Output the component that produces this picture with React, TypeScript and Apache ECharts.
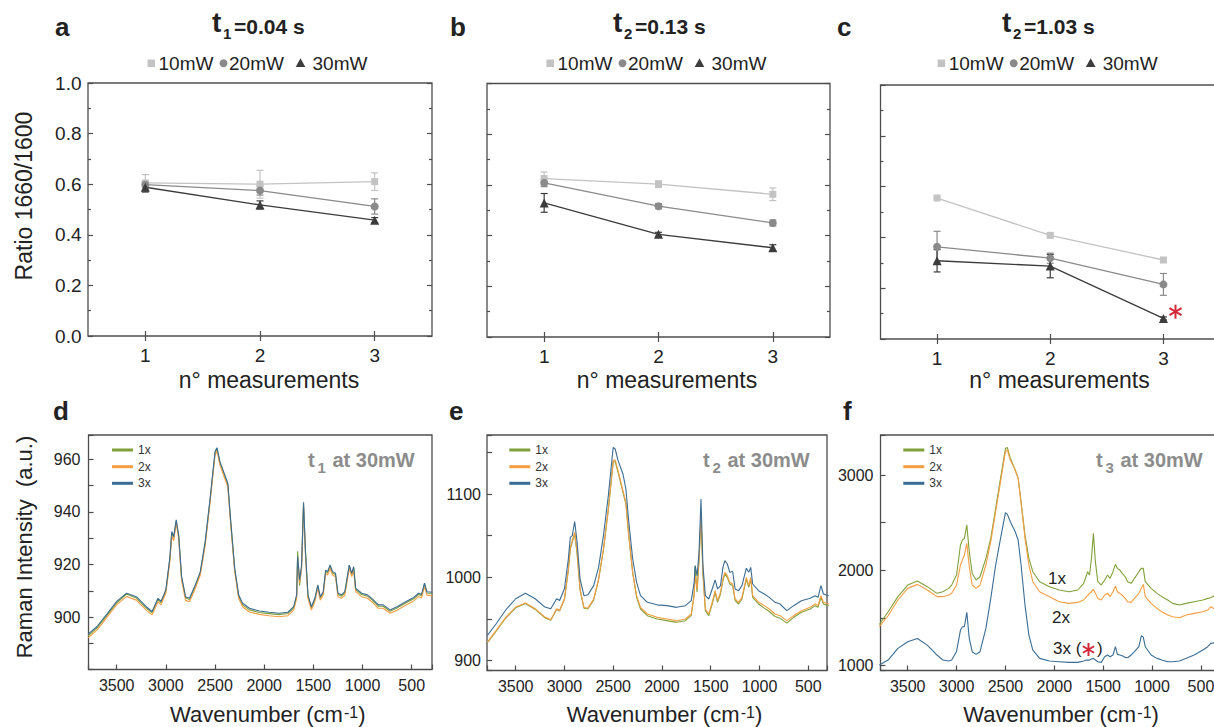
import React, { useEffect, useRef } from 'react';
import * as echarts from 'echarts';

const FONT = '"Liberation Sans", Arial, Helvetica, sans-serif';
const INK = '#222222';
const AXIS = '#4d4d4d';
const RED = '#d2283a';
const NOTE_GRAY = '#8c8c8c';

// ---------- top panels (ratio 1660/1600) ----------
const CATEGORIES = ['1', '2', '3'];
const POWER_NAMES = ['10mW', '20mW', '30mW'];
const POWER_COLORS = ['#c3c3c3', '#8a8a8a', '#3c3c3c'];
const POWER_SYMBOLS = ['rect', 'circle', 'triangle'];
const POWER_SIZES = [7, 8, 9];

const A_10MW = [0.605, 0.6, 0.61];
const A_10MW_ERR = [0.033, 0.055, 0.035];
const A_20MW = [0.598, 0.575, 0.512];
const A_20MW_ERR = [0.012, 0.018, 0.03];
const A_30MW = [0.588, 0.518, 0.458];
const A_30MW_ERR = [0.019, 0.016, 0.01];

const B_10MW = [0.625, 0.603, 0.563];
const B_10MW_ERR = [0.026, 0.013, 0.025];
const B_20MW = [0.608, 0.516, 0.45];
const B_20MW_ERR = [0.015, 0.01, 0.012];
const B_30MW = [0.529, 0.405, 0.352];
const B_30MW_ERR = [0.037, 0.008, 0.012];

const C_10MW = [0.555, 0.408, 0.311];
const C_10MW_ERR = [0.006, 0.005, 0.005];
const C_20MW = [0.363, 0.318, 0.215];
const C_20MW_ERR = [0.061, 0.02, 0.043];
const C_30MW = [0.308, 0.287, 0.081];
const C_30MW_ERR = [0.044, 0.046, 0.006];

// ---------- bottom panels (Raman spectra) ----------
const SPEC_NAMES = ['1x', '2x', '3x'];
const SPEC_COLORS = ['#80a13a', '#f59e42', '#3b6d94'];

const WAVENUMBERS = [
  3790, 3700, 3600, 3500, 3400, 3300, 3200, 3140, 3080, 3050,
  3000, 2960, 2940, 2920, 2895, 2870, 2840, 2800, 2760, 2700,
  2650, 2600, 2550, 2500, 2480, 2450, 2400, 2370, 2340, 2300,
  2260, 2220, 2150, 2050, 1950, 1850, 1760, 1700, 1670, 1660,
  1640, 1620, 1600, 1580, 1555, 1520, 1485, 1455, 1430, 1400,
  1375, 1355, 1330, 1305, 1275, 1250, 1215, 1180, 1135, 1110,
  1090, 1070, 1010, 950, 900, 840, 790, 720, 650, 570,
  480, 430, 400, 370, 345, 290,
];

const D_1X = [
  893.0, 896.0, 900.6, 905.5, 908.8, 907.3, 903.5, 901.7, 906.8, 905.5,
  910.0, 922.0, 932.0, 930.2, 936.6, 930.8, 915.0, 907.3, 906.7, 911.8,
  916.8, 928.2, 944.6, 962.3, 963.8, 958.5, 953.4, 950.3, 935.8, 918.1,
  908.0, 904.7, 902.8, 901.8, 901.4, 901.0, 901.4, 903.6, 908.3, 925.0,
  912.0, 919.0, 942.8, 924.3, 908.0, 903.5, 906.7, 911.8, 907.3, 909.2,
  917.4, 916.8, 919.3, 916.8, 916.2, 908.6, 908.0, 909.2, 919.6, 916.2,
  918.7, 910.5, 908.6, 908.0, 906.5, 904.2, 904.2, 902.3, 903.5, 905.2,
  907.0, 908.6, 908.2, 912.4, 909.2, 909.0,
];
const D_2X = [
  892.2, 895.2, 899.9, 904.8, 907.9, 906.5, 902.7, 900.9, 905.9, 904.7,
  909.1, 921.0, 930.8, 929.0, 935.8, 929.8, 914.0, 906.4, 905.9, 911.0,
  916.0, 927.3, 943.7, 961.5, 963.0, 957.7, 952.5, 949.4, 934.9, 917.3,
  907.2, 904.0, 902.0, 901.1, 900.6, 900.2, 900.6, 902.7, 907.2, 922.0,
  913.0, 918.5, 942.0, 923.5, 907.2, 902.7, 905.9, 911.0, 906.5, 908.4,
  916.6, 916.0, 918.5, 916.0, 915.4, 907.8, 907.2, 908.4, 918.5, 915.4,
  917.9, 909.7, 907.8, 907.2, 905.7, 903.4, 903.4, 901.5, 902.7, 904.4,
  906.2, 907.8, 907.4, 911.6, 908.4, 908.2,
];
const D_3X = [
  893.6, 896.5, 901.2, 906.0, 909.1, 907.8, 904.0, 902.2, 907.2, 906.0,
  910.4, 922.4, 932.5, 930.6, 936.9, 931.2, 915.4, 907.8, 907.2, 912.3,
  917.3, 928.7, 945.1, 962.8, 964.3, 959.0, 953.9, 950.8, 936.3, 918.6,
  908.5, 905.3, 903.4, 902.4, 901.9, 901.5, 901.9, 904.0, 908.5, 923.0,
  914.2, 919.8, 943.6, 924.9, 908.5, 904.0, 907.2, 912.3, 907.8, 909.7,
  917.9, 917.3, 919.8, 917.3, 916.7, 909.1, 908.5, 909.7, 919.8, 916.7,
  919.2, 911.0, 909.1, 908.5, 907.0, 904.7, 904.7, 902.8, 904.0, 905.7,
  907.5, 909.1, 908.7, 912.9, 909.7, 909.5,
];

const E_1X = [
  921.5, 935.5, 951.5, 963.5, 968.5, 961.5, 951.5, 948.5, 961.5, 959.5,
  973.5, 1008, 1034, 1042, 1052, 1028, 985, 963, 962, 973,
  997, 1033, 1081, 1138, 1139, 1126, 1102, 1088, 1049, 1005,
  976, 962, 954, 950, 948, 946, 948, 954, 980, 1014,
  982, 1020, 1072, 1004, 960, 954, 968, 982, 970, 980,
  996, 1004, 1000, 992, 990, 972, 968, 974, 998, 988,
  998, 976, 968, 963, 959, 953, 951, 945, 952, 958,
  962, 966, 964, 976, 968, 966,
];
const E_2X = [
  922.4, 936.3, 952.3, 964.3, 969.1, 962.3, 952.3, 949.1, 962.3, 960.3,
  974.3, 1010, 1036, 1044, 1054, 1030, 986, 964, 963, 974,
  998, 1034, 1082, 1140, 1141, 1128, 1104, 1090, 1050, 1006,
  978, 964, 956, 952, 950, 948, 950, 956, 978, 1002,
  986, 1022, 1075, 1006, 962, 956, 970, 984, 972, 982,
  998, 1006, 1002, 994, 992, 974, 970, 976, 1000, 990,
  1000, 978, 970, 966, 962, 956, 954, 948, 954, 960,
  964, 968, 966, 978, 970, 968,
];
const E_3X = [
  930.4, 944.3, 961.1, 974.3, 981, 974.3, 964.3, 962.3, 974.3, 972.3,
  986.3, 1022, 1048, 1050, 1067, 1042, 998, 978, 979, 990,
  1012, 1050, 1098, 1156, 1154, 1140, 1124, 1106, 1066, 1022,
  994, 978, 970, 967, 966, 964, 966, 972, 994, 1014,
  1002, 1030, 1094, 1014, 978, 974, 986, 997, 986, 990,
  1012, 1020, 1016, 1006, 1007, 986, 984, 990, 1011, 1006,
  1012, 992, 984, 980, 976, 970, 968, 960, 966, 972,
  975, 978, 976, 990, 980, 978,
];

const F_1X = [
  1433, 1566, 1724, 1846, 1888, 1829, 1759, 1776, 1811, 1846,
  1951, 2266, 2318, 2336, 2476, 2196, 1968, 1898, 1933, 2126,
  2336, 2650, 2965, 3280, 3287, 3175, 3052, 2965, 2720, 2370,
  2126, 1986, 1881, 1829, 1794, 1776, 1794, 1864, 1951, 1986,
  1951, 2126, 2388, 2091, 1881, 1846, 1898, 1951, 1916, 1986,
  2063, 2021, 2003, 1968, 1933, 1881, 1864, 1916, 1986, 2021,
  2021, 1881, 1811, 1759, 1724, 1689, 1654, 1636, 1654, 1671,
  1689, 1706, 1713, 1730, 1700, 1700,
];
const F_2X = [
  1409, 1524, 1689, 1811, 1853, 1794, 1724, 1724, 1741, 1759,
  1846, 2056, 2108, 2161, 2283, 2038, 1846, 1811, 1846, 2056,
  2301, 2615, 2930, 3245, 3262, 3157, 3052, 2965, 2703, 2336,
  2056, 1881, 1776, 1724, 1671, 1654, 1664, 1689, 1724, 1734,
  1759, 1776, 1801, 1759, 1706, 1689, 1741, 1759, 1724, 1776,
  1835, 1776, 1759, 1741, 1706, 1671, 1664, 1706, 1759, 1811,
  1853, 1724, 1654, 1601, 1566, 1531, 1514, 1503, 1531, 1549,
  1566, 1584, 1619, 1600, 1590, 1600,
];
const F_3X = [
  1007, 1059, 1182, 1251, 1286, 1216, 1112, 1059, 1049, 1060,
  1150, 1374, 1409, 1409, 1559, 1286, 1147, 1119, 1147, 1391,
  1706, 2056, 2336, 2605, 2587, 2510, 2405, 2318, 2056, 1636,
  1321, 1164, 1077, 1049, 1042, 1035, 1035, 1049, 1059, 1059,
  1059, 1070, 1077, 1059, 1042, 1035, 1094, 1112, 1094, 1112,
  1200, 1119, 1112, 1105, 1087, 1084, 1112, 1147, 1199, 1314,
  1300, 1199, 1112, 1077, 1059, 1042, 1042, 1049, 1077, 1112,
  1164, 1199, 1234, 1240, 1230, 1240,
];

// ---------- layout ----------
const TOP_PANELS = [
  {
    grid: { left: 88, top: 83, width: 344, height: 253 },
    vals: [A_10MW, A_20MW, A_30MW], errs: [A_10MW_ERR, A_20MW_ERR, A_30MW_ERR], yLabels: true,
  },
  {
    grid: { left: 487, top: 83.5, width: 343, height: 253.5 },
    vals: [B_10MW, B_20MW, B_30MW], errs: [B_10MW_ERR, B_20MW_ERR, B_30MW_ERR], yLabels: false,
  },
  {
    grid: { left: 880.5, top: 85, width: 339.5, height: 254 },
    vals: [C_10MW, C_20MW, C_30MW], errs: [C_10MW_ERR, C_20MW_ERR, C_30MW_ERR], yLabels: false,
  },
];

const BOTTOM_PANELS = [
  {
    grid: { left: 88.5, top: 435, width: 343.5, height: 234.5 },
    x: [293.6, 3786.8], y: [880.2, 969.1], ySplit: 9, yStep: 20, yLow: 900, yMargin: 8,
    data: [D_1X, D_2X, D_3X],
  },
  {
    grid: { left: 487, top: 435, width: 340, height: 235.5 },
    x: [308, 3794], y: [888.2, 1170.8], ySplit: 5, yStep: 100, yLow: 900, yMargin: 6,
    data: [E_1X, E_2X, E_3X],
  },
  {
    grid: { left: 880.5, top: 435, width: 340.5, height: 235.5 },
    x: [295, 3778], y: [949.7, 3419.5], ySplit: 5, yStep: 1000, yLow: 1000, yMargin: 7,
    data: [F_1X, F_2X, F_3X],
  },
];

function txt(text: string, x: number, y: number, fs: number, o: any = {}) {
  return {
    type: 'text', x, y, rotation: o.rot || 0, z: 50, silent: true,
    style: {
      text, fontSize: fs, fontFamily: FONT, fontWeight: o.bold ? 'bold' : 'normal',
      fill: o.fill || INK, align: o.align || 'left', verticalAlign: 'middle',
      textAlign: o.align || 'left', textVerticalAlign: 'middle',
    },
  };
}

function asterisk(cx: number, cy: number, r: number) {
  const angles = [Math.PI / 2, Math.PI / 6, -Math.PI / 6];
  return {
    type: 'group', x: cx, y: cy, z: 50, silent: true,
    children: angles.map((a) => ({
      type: 'line',
      shape: { x1: -r * Math.cos(a), y1: -r * Math.sin(a), x2: r * Math.cos(a), y2: r * Math.sin(a) },
      style: { stroke: RED, lineWidth: 2 },
    })),
  };
}

function errSeries(name: string, vals: number[], errs: number[], color: string, axisIndex: number) {
  return {
    type: 'custom',
    name: name + ' error',
    xAxisIndex: axisIndex,
    yAxisIndex: axisIndex,
    silent: true,
    z: 3,
    encode: { x: 0, y: [1, 2] },
    data: vals.map((v, i) => [i, v - errs[i], v + errs[i]]),
    renderItem: (params: any, api: any) => {
      const i = api.value(0);
      const lo = api.coord([i, api.value(1)]);
      const hi = api.coord([i, api.value(2)]);
      const w = 3.5;
      const style = { stroke: color, lineWidth: 1.2 };
      return {
        type: 'group',
        children: [
          { type: 'line', shape: { x1: lo[0], y1: lo[1], x2: hi[0], y2: hi[1] }, style },
          { type: 'line', shape: { x1: lo[0] - w, y1: lo[1], x2: lo[0] + w, y2: lo[1] }, style },
          { type: 'line', shape: { x1: hi[0] - w, y1: hi[1], x2: hi[0] + w, y2: hi[1] }, style },
        ],
      };
    },
  };
}

function buildOption() {
  const grids: any[] = [];
  const xAxes: any[] = [];
  const yAxes: any[] = [];
  const series: any[] = [];
  const tick = { show: true, inside: true, length: 5, lineStyle: { color: AXIS, width: 1.2 } };

  TOP_PANELS.forEach((p, i) => {
    grids.push({ ...p.grid, show: true, borderColor: AXIS, borderWidth: 1.3, backgroundColor: 'transparent' });
    const xb = {
      type: 'category', gridIndex: i, data: CATEGORIES, position: 'bottom', boundaryGap: true,
      axisLine: { show: false }, axisTick: { ...tick, alignWithLabel: true },
      axisLabel: { show: true, margin: 9.5, fontSize: 19, color: INK, fontFamily: FONT },
      splitLine: { show: false },
    };
    xAxes.push(xb, { ...xb, position: 'top', axisLabel: { show: false } });
    const yl = {
      type: 'value', gridIndex: i, min: 0, max: 1, interval: 0.2, position: 'left',
      axisLine: { show: false }, axisTick: tick,
      minorTick: { show: true, splitNumber: 2, length: 3, lineStyle: { color: AXIS, width: 1.2 } },
      axisLabel: {
        show: p.yLabels, margin: 6.5, fontSize: 19, color: INK, fontFamily: FONT,
        formatter: (v: number) => v.toFixed(1),
      },
      splitLine: { show: false }, minorSplitLine: { show: false },
    };
    yAxes.push(yl, { ...yl, position: 'right', axisLabel: { show: false } });
    const ax = 2 * i;
    p.vals.forEach((vals, k) => {
      series.push(errSeries(POWER_NAMES[k], vals, p.errs[k], POWER_COLORS[k], ax));
      series.push({
        type: 'line', name: POWER_NAMES[k], xAxisIndex: ax, yAxisIndex: ax, data: vals,
        symbol: POWER_SYMBOLS[k], symbolSize: POWER_SIZES[k], showSymbol: true, silent: true, z: 4,
        lineStyle: { color: POWER_COLORS[k], width: 1.3 }, itemStyle: { color: POWER_COLORS[k] },
      });
    });
  });

  BOTTOM_PANELS.forEach((p, j) => {
    const g = 3 + j;
    const ax = 6 + j;
    grids.push({ ...p.grid, show: true, borderColor: AXIS, borderWidth: 1.3, backgroundColor: 'transparent' });
    xAxes.push({
      type: 'value', gridIndex: g, inverse: true, min: p.x[0], max: p.x[1], splitNumber: 7,
      axisLine: { show: false }, axisTick: tick,
      axisLabel: {
        margin: 7.5, fontSize: 16, color: INK, fontFamily: FONT,
        formatter: (v: number) => (Math.abs(v % 500) < 1e-6 ? String(v) : ''),
      },
      splitLine: { show: false },
    });
    yAxes.push({
      type: 'value', gridIndex: g, min: p.y[0], max: p.y[1], splitNumber: p.ySplit,
      axisLine: { show: false }, axisTick: tick,
      axisLabel: {
        margin: p.yMargin, fontSize: 16, color: INK, fontFamily: FONT,
        formatter: (v: number) => (Math.abs(v % p.yStep) < 1e-6 && v >= p.yLow ? String(v) : ''),
      },
      splitLine: { show: false },
    });
    p.data.forEach((vals, k) => {
      series.push({
        type: 'line', name: SPEC_NAMES[k], xAxisIndex: ax, yAxisIndex: ax,
        data: WAVENUMBERS.map((w, i) => [w, vals[i]]),
        showSymbol: false, symbol: 'none', silent: true, clip: true, z: 2 + k,
        lineStyle: { color: SPEC_COLORS[k], width: 1.1 },
      });
    });
  });

  const graphic: any[] = [];
  // panel letters
  [['a', 55, 26.5], ['b', 450, 26.5], ['c', 837, 26.5], ['d', 53, 410.5], ['e', 449, 410.5], ['f', 843, 410.5]].forEach(
    ([t, x, y]: any) => graphic.push(txt(t, x, y, 26, { bold: true })),
  );
  // titles
  const titles = [
    { x: 212, sub: '1', rest: '=0.04 s' },
    { x: 613, sub: '2', rest: '=0.13 s' },
    { x: 1002, sub: '2', rest: '=1.03 s' },
  ];
  titles.forEach((t) => {
    graphic.push(txt('t', t.x, 22.7, 28, { bold: true }));
    graphic.push(txt(t.sub, t.x + 11, 33.8, 15, { bold: true }));
    graphic.push(txt(t.rest, t.x + 22, 26, 21, { bold: true }));
  });
  // top legends
  [147.5, 546.5, 937.7].forEach((x0) => {
    const cy = 63.3;
    graphic.push({ type: 'rect', shape: { x: x0, y: cy - 3.75, width: 7.5, height: 7.5 }, style: { fill: POWER_COLORS[0] }, z: 50, silent: true });
    graphic.push(txt(POWER_NAMES[0], x0 + 11, cy, 19));
    graphic.push({ type: 'circle', shape: { cx: x0 + 76, cy, r: 4 }, style: { fill: POWER_COLORS[1] }, z: 50, silent: true });
    graphic.push(txt(POWER_NAMES[1], x0 + 81.5, cy, 19));
    graphic.push({
      type: 'polygon',
      shape: { points: [[x0 + 153, cy - 5], [x0 + 157.8, cy + 3.6], [x0 + 148.2, cy + 3.6]] },
      style: { fill: POWER_COLORS[2] }, z: 50, silent: true,
    });
    graphic.push(txt(POWER_NAMES[2], x0 + 165, cy, 19));
  });
  // top axis names
  graphic.push(txt('Ratio 1660/1600', 24, 196, 23, { rot: Math.PI / 2, align: 'center' }));
  [269, 667, 1059.5].forEach((cx) => graphic.push(txt('n° measurements', cx, 380, 23, { align: 'center' })));
  // bottom axis names
  graphic.push(txt('Raman Intensity\u00a0 (a.u.)', 24.5, 547, 22, { rot: Math.PI / 2, align: 'center' }));
  [170, 566.7, 963.3].forEach((x0) => {
    graphic.push(txt('Wavenumber (cm', x0, 714.3, 22));
    graphic.push(txt('-1', x0 + 174, 712.5, 16));
    graphic.push(txt(')', x0 + 188.2, 714.3, 22));
  });
  // bottom legends
  [112, 509.3, 903.3].forEach((x0) => {
    [450, 466.7, 483.3].forEach((y, k) => {
      graphic.push({ type: 'line', shape: { x1: x0, y1: y, x2: x0 + 21, y2: y }, style: { stroke: SPEC_COLORS[k], lineWidth: 3 }, z: 50, silent: true });
      graphic.push(txt(SPEC_NAMES[k], x0 + 26, y, 12, { fill: '#333' }));
    });
  });
  // in-panel notes
  [
    { x: 308, sub: '1' },
    { x: 703, sub: '2' },
    { x: 1096, sub: '3' },
  ].forEach((n) => {
    graphic.push(txt('t', n.x, 459.7, 20, { bold: true, fill: NOTE_GRAY }));
    graphic.push(txt(n.sub, n.x + 9.5, 467.8, 15, { bold: true, fill: NOTE_GRAY }));
    graphic.push(txt('at 30mW', n.x + 24.5, 459.7, 20, { bold: true, fill: NOTE_GRAY }));
  });
  // panel f curve labels
  graphic.push(txt('1x', 1048, 578, 17));
  graphic.push(txt('2x', 1052, 617, 17));
  graphic.push(txt('3x (', 1053, 648, 17));
  graphic.push(asterisk(1088.5, 649.5, 6.5));
  graphic.push(txt(')', 1097, 648, 17));
  // panel c significance mark
  graphic.push(asterisk(1175.5, 311.7, 7));

  return {
    animation: false,
    backgroundColor: '#ffffff',
    textStyle: { fontFamily: FONT },
    grid: grids,
    xAxis: xAxes,
    yAxis: yAxes,
    series,
    graphic,
  };
}

export default function App() {
  const ref = useRef<HTMLDivElement>(null);
  useEffect(() => {
    if (!ref.current) return;
    const chart = echarts.init(ref.current, null, { renderer: 'svg' });
    chart.setOption(buildOption() as any);
    return () => chart.dispose();
  }, []);
  return (
    <div
      ref={ref}
      style={{ position: 'fixed', left: 0, top: 0, width: 1240, height: 727, background: '#fff' }}
    />
  );
}
